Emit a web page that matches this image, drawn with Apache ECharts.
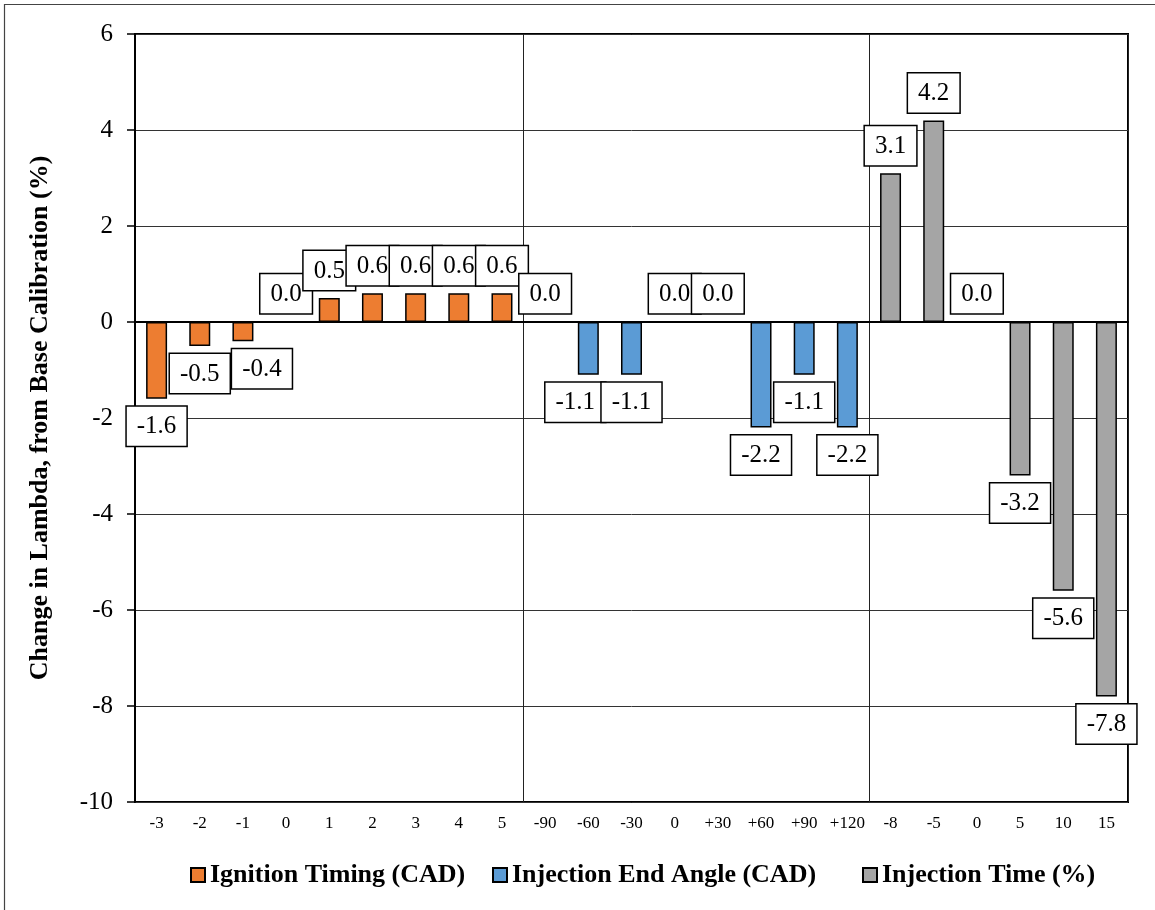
<!DOCTYPE html>
<html>
<head>
<meta charset="utf-8">
<title>Change in Lambda from Base Calibration</title>
<script src="https://cdn.jsdelivr.net/npm/echarts@6/dist/echarts.min.js"></script>
<style>
  html, body { margin: 0; padding: 0; background: #fff; }
  #chart { width: 1155px; height: 910px; }
</style>
</head>
<body>
<div id="chart"></div>
<script>
// Category labels for the three calibration sweeps, in drawing order
const ignitionCats = ['-3', '-2', '-1', '0', '1', '2', '3', '4', '5'];
const endAngleCats = ['-90', '-60', '-30', '0', '+30', '+60', '+90', '+120'];
const injTimeCats = ['-8', '-5', '0', '5', '10', '15'];

// Change in lambda (%) for each setting
const ignitionValues = [-1.6, -0.5, -0.4, 0.0, 0.5, 0.6, 0.6, 0.6, 0.6];
const endAngleValues = [0.0, -1.1, -1.1, 0.0, 0.0, -2.2, -1.1, -2.2];
const injTimeValues = [3.1, 4.2, 0.0, -3.2, -5.6, -7.8];

const seriesNames = ['Ignition Timing (CAD)', 'Injection End Angle (CAD)', 'Injection Time (%)'];
const yTicks = [-10, -8, -6, -4, -2, 0, 2, 4, 6];

// Horizontal nudges for a couple of value boxes, keyed by category slot
const labelNudge = { 2: [19, 0], 10: [-13, 0] };
// Left edge of each legend entry
const legendLeft = [185, 487, 857];

const serif = "'Liberation Serif', 'Times New Roman', serif";
const categories = ignitionCats.concat(endAngleCats, injTimeCats);
const groups = [ignitionValues, endAngleValues, injTimeValues];
const colors = ['#ED7D31', '#5B9BD5', '#A5A5A5'];

// Each series only occupies its own block of categories
function buildData(gi) {
  const out = [];
  let start = 0;
  for (let g = 0; g < gi; g++) start += groups[g].length;
  for (let i = 0; i < categories.length; i++) {
    const k = i - start;
    if (k >= 0 && k < groups[gi].length) {
      const v = groups[gi][k];
      const item = { value: v, label: { position: v >= 0 ? 'top' : 'bottom' } };
      if (labelNudge[i]) item.label.offset = labelNudge[i];
      out.push(item);
    } else {
      out.push(null);
    }
  }
  return out;
}

// Separator lines sit at the start of the 2nd and 3rd sweeps
const sepIndex = [ignitionCats.length, ignitionCats.length + endAngleCats.length];

const chart = echarts.init(document.getElementById('chart'), null, { renderer: 'canvas' });

chart.setOption({
  animation: false,
  backgroundColor: '#fff',
  textStyle: { fontFamily: serif },
  graphic: [{
    type: 'rect',
    shape: { x: 4.5, y: 4.5, width: 1200, height: 1000 },
    style: { fill: 'none', stroke: '#444', lineWidth: 1.2 },
    silent: true,
    z: -1
  }],
  grid: {
    left: 135, right: 27, top: 34, bottom: 108,
    show: true, borderColor: '#000', borderWidth: 2,
    backgroundColor: 'transparent'
  },
  legend: seriesNames.map(function (name, i) {
    return {
      left: legendLeft[i], top: 857,
      itemWidth: 14, itemHeight: 14,
      icon: 'rect',
      textStyle: { fontFamily: serif, fontWeight: 'bold', fontSize: 26, color: '#000' },
      data: [name]
    };
  }),
  xAxis: {
    type: 'category',
    data: categories,
    axisLine: { show: true, lineStyle: { color: '#000', width: 2 } },
    axisTick: { show: false },
    axisLabel: { interval: 0, fontFamily: serif, fontSize: 17, color: '#000', margin: 13 },
    splitLine: {
      show: true,
      interval: function (index) { return sepIndex.indexOf(index) >= 0; },
      lineStyle: { color: '#222', width: 1 }
    }
  },
  yAxis: {
    type: 'value',
    min: yTicks[0], max: yTicks[yTicks.length - 1], interval: 2,
    name: 'Change in Lambda, from Base Calibration (%)',
    nameLocation: 'middle',
    nameGap: 82,
    nameTextStyle: { fontFamily: serif, fontWeight: 'bold', fontSize: 26, color: '#000' },
    axisLine: { show: true, lineStyle: { color: '#000', width: 2 } },
    axisTick: { show: true, inside: false, length: 8, lineStyle: { color: '#000', width: 1.5 } },
    axisLabel: { fontFamily: serif, fontSize: 25, color: '#000', margin: 22 },
    splitLine: { show: true, lineStyle: { color: '#333', width: 1 } }
  },
  series: seriesNames.map(function (name, gi) {
    return {
      name: name,
      type: 'bar',
      stack: 'all',
      barWidth: 21,
      data: buildData(gi),
      itemStyle: { color: colors[gi], borderColor: '#000', borderWidth: 1.5 },
      label: {
        show: true,
        distance: 8,
        formatter: function (p) { return Number(p.value).toFixed(1); },
        fontFamily: serif,
        fontSize: 25,
        lineHeight: 28,
        color: '#000',
        backgroundColor: '#fff',
        borderColor: '#000',
        borderWidth: 1.5,
        padding: [6, 10, 5, 10]
      }
    };
  })
});
</script>
</body>
</html>
